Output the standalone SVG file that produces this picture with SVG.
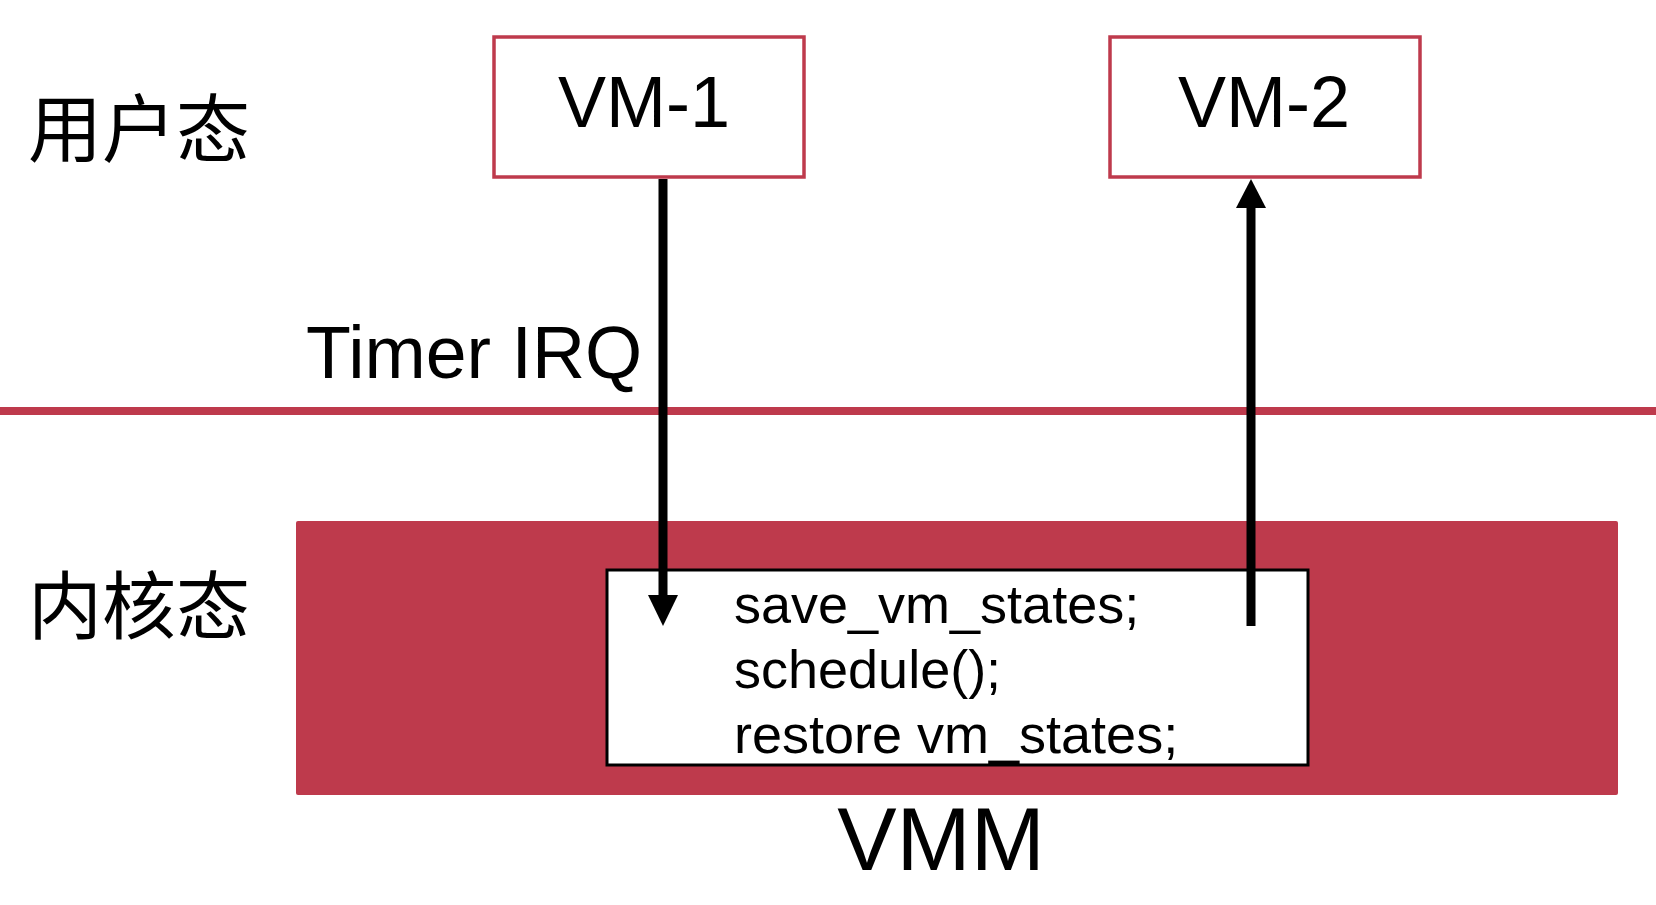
<svg xmlns="http://www.w3.org/2000/svg" width="1656" height="905" viewBox="0 0 1656 905">
  <defs>
    <style>
      .lat { font-family: "Liberation Sans", Arial, sans-serif; fill: #000; }
      .cjk { font-family: "Noto Sans CJK SC", sans-serif; fill: #000; font-size: 74px; }
      .vmbox { fill: #fff; stroke: #BE3A4C; stroke-width: 3.5; }
      .shaft { stroke: #000; stroke-width: 9; fill: none; }
      .head { fill: #000; }
    </style>
  </defs>
  <rect x="0" y="0" width="1656" height="905" fill="#fff"/>

  <g id="layer-labels">
    <text class="cjk" x="28" y="156">用户态</text>
    <text class="cjk" x="28" y="633">内核态</text>
  </g>

  <g id="boundary">
    <rect x="0" y="407" width="1656" height="8" fill="#BE3A4C"/>
  </g>

  <g id="vm1">
    <rect class="vmbox" x="494" y="37" width="310" height="140"/>
    <text class="lat" x="644" y="127" font-size="72" text-anchor="middle">VM-1</text>
  </g>

  <g id="vm2">
    <rect class="vmbox" x="1110" y="37" width="310" height="140"/>
    <text class="lat" x="1264" y="127" font-size="72" text-anchor="middle">VM-2</text>
  </g>

  <g id="vmm">
    <rect x="296" y="521" width="1322" height="274" rx="2" fill="#BE3A4C"/>
    <text class="lat" x="941" y="870" font-size="89" text-anchor="middle">VMM</text>
  </g>

  <g id="code">
    <rect x="607" y="570" width="701" height="195" fill="#fff" stroke="#000" stroke-width="3"/>
    <text class="lat" font-size="54">
      <tspan x="734" y="623">save_vm_states;</tspan>
      <tspan x="734" y="688">schedule();</tspan>
      <tspan x="734" y="753">restore vm_states;</tspan>
    </text>
  </g>

  <g id="timer-label">
    <text class="lat" x="306" y="378" font-size="73.5">Timer IRQ</text>
  </g>

  <g id="connectors">
    <line class="shaft" x1="663" y1="179" x2="663" y2="598"/>
    <polygon class="head" points="648,595 678,595 663,626"/>
    <line class="shaft" x1="1251" y1="626" x2="1251" y2="205"/>
    <polygon class="head" points="1236,208 1266,208 1251,179"/>
  </g>
</svg>
